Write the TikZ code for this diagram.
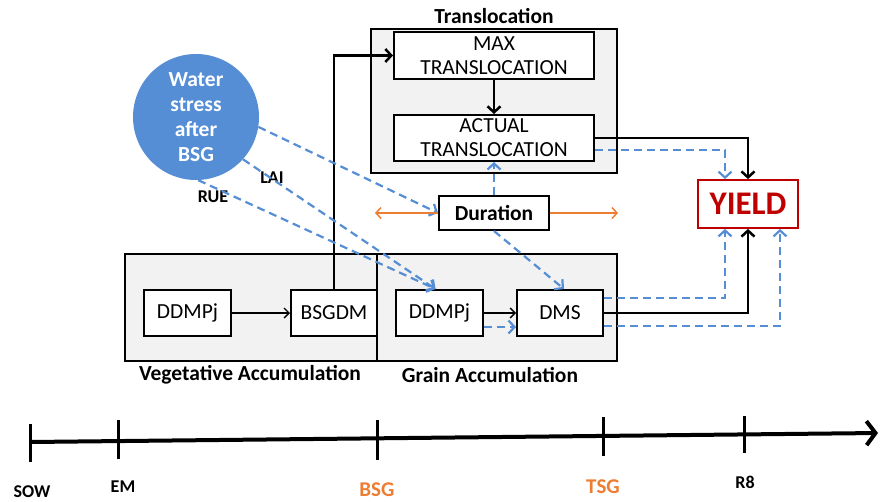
\documentclass[tikz,border=0pt]{standalone}
\usepackage{fontspec}
\setmainfont{Carlito}
\usepackage{tikz}
\usetikzlibrary{arrows.meta}
\definecolor{StressBlue}{RGB}{85,142,213}
\definecolor{DashBlue}{RGB}{85,142,213}
\definecolor{ArrOrange}{RGB}{237,125,49}
\definecolor{YieldRed}{RGB}{192,0,0}
\colorlet{PanelGray}{black!5}

\begin{document}
\begin{tikzpicture}[x=1pt,y=-1pt,
                    panel/.style={draw=black, line width=2pt, fill=PanelGray, inner sep=0pt},
                    box/.style={draw=black, line width=2pt, fill=white, inner sep=0pt, align=center, font=\fontsize{21.5}{24}\selectfont},
                    bluedash/.style={DashBlue, line width=2.2pt, dash pattern=on 8pt off 5pt, -{Straight Barb[length=6pt,width=13pt]}},
                    blackarr/.style={black, line width=2.5pt, -{Straight Barb[length=6pt,width=13pt]}},
                    thinarr/.style={black, line width=1.3pt, -{Straight Barb[length=5pt,width=10pt]}},
                    orangearr/.style={ArrOrange, line width=1.5pt, -{Straight Barb[length=5pt,width=11pt]}},
                    lab/.style={font=\fontsize{21.5}{24}\selectfont\bfseries},
                    small/.style={font=\fontsize{18}{20}\selectfont\bfseries}]
                    \useasboundingbox (0,0) rectangle (880,501);

%                    Panels
                    \node[panel, minimum width=252pt, minimum height=107pt] (veg) at (251,307.5) {};
                    \node[panel, minimum width=240pt, minimum height=107pt] (grain) at (497,307.5) {};
                    \node[panel, minimum width=246pt, minimum height=144pt] (trans) at (494,101) {};
                    \node[lab] (translab) at (494,16) {Translocation};
                    \node[lab] (veglab) at (250,375) {Vegetative Accumulation};
                    \node[lab] (grainlab) at (490,375) {Grain Accumulation};

%                    Boxes
                    \node[box, minimum width=200pt, minimum height=47pt] (maxT) at (494,55.5) {MAX\\TRANSLOCATION};
                    \node[box, minimum width=200pt, minimum height=46pt] (actT) at (494,138) {ACTUAL\\TRANSLOCATION};
                    \node[box, minimum width=110pt, minimum height=34pt, font=\fontsize{21.5}{24}\selectfont\bfseries] (dur) at (494,213) {Duration};
                    \node[box, minimum width=87pt, minimum height=46pt] (ddmpA) at (187.5,313) {DDMPj};
                    \node[box, minimum width=86pt, minimum height=46pt] (bsgdm) at (334,313) {BSGDM};
                    \node[box, minimum width=87pt, minimum height=46pt] (ddmpB) at (439.5,313) {DDMPj};
                    \node[box, minimum width=86pt, minimum height=46pt] (dms) at (560,313) {DMS};
                    \node[draw=YieldRed, line width=1.8pt, fill=white, text=YieldRed, minimum width=100pt, minimum height=48pt, inner sep=0pt, font=\fontsize{33}{36}\selectfont\bfseries] (yield) at (748,204) {YIELD};
                    \node[circle, fill=StressBlue, minimum size=126pt, inner sep=0pt, text=white, align=center, font=\fontsize{21.5}{25}\selectfont\bfseries] (stress) at (196,117) {Water\\stress\\after\\BSG};
                    \node[small] (lai) at (272,178) {LAI};
                    \node[small] (rue) at (213,197) {RUE};

%                    Black connectors
                    \draw[thinarr] (ddmpA) -- (bsgdm);
                    \draw[thinarr] (ddmpB) -- (dms);
                    \draw[blackarr] (bsgdm.north) |- (maxT.west);
                    \draw[blackarr] (maxT) -- (actT);
                    \draw[blackarr] (actT.east) -| (yield.north);
                    \draw[blackarr] (dms.east) -| (yield.south);

%                    Water stress
                    \draw[bluedash] (stress.-9) -- (dur.west);
                    \draw[bluedash] (stress.-42) -- ([xshift=-4pt]ddmpB.north);
                    \draw[bluedash] (stress.-88) -- ([xshift=-4pt]ddmpB.north);
                    \draw[bluedash] (dur) -- (actT);
                    \draw[bluedash] (dur.south) -- ([xshift=4pt]dms.north);
                    \draw[bluedash] ([yshift=-14pt]ddmpB.east) -- ([yshift=-14pt]dms.west);
                    \draw[bluedash] ([yshift=-12pt]actT.east) -| ([xshift=-23pt]yield.north);
                    \draw[bluedash] ([yshift=15pt]dms.east) -| ([xshift=-23pt]yield.south);
                    \draw[bluedash] ([yshift=-13pt]dms.east) -| ([xshift=32pt]yield.south);

%                    Duration range
                    \coordinate (durL) at (375,213);
                    \coordinate (durR) at (618,213);
                    \draw[orangearr] (dur.west) -- (durL);
                    \draw[orangearr] (dur.east) -- (durR);

%                    Time line
                    \coordinate (tlstart) at (30,442);
                    \coordinate (tlend) at (878,433);
                    \draw[line width=4pt, -{Straight Barb[length=9pt,width=24pt]}] (tlstart) -- (tlend);
                    \foreach \x/\yt/\yb in {30/424/462, 118/420/459, 377/420/460, 603/417/456, 744/416/453} {
                        \draw[line width=3pt] (\x,\yt) -- (\x,\yb);
                    }
                    \node[small] (sow) at (32,492) {SOW};
                    \node[small] (em) at (123,487) {EM};
                    \node[small, text=ArrOrange, font=\fontsize{21}{24}\selectfont\bfseries] (bsg) at (377,490) {BSG};
                    \node[small, text=ArrOrange, font=\fontsize{21}{24}\selectfont\bfseries] (tsg) at (603,487) {TSG};
                    \node[small] (reight) at (745,482) {R8};

                \end{tikzpicture}
\end{document}
